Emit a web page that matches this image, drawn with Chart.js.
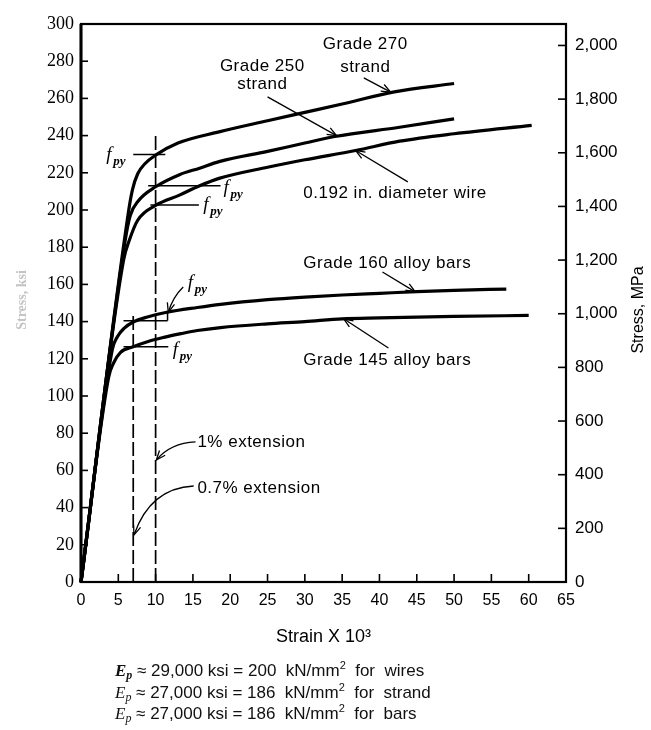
<!DOCTYPE html>
<html>
<head>
<meta charset="utf-8">
<script src="https://cdn.jsdelivr.net/npm/chart.js@4.4.0/dist/chart.umd.min.js"></script>
<style>
html, body { margin: 0; padding: 0; background: #fff; }
#wrap { position: relative; width: 651px; height: 730px; }
#chart { position: absolute; left: 0; top: 0; }
.note { position: absolute; left: 115px; font-family: "Liberation Sans", Arial, sans-serif; font-size: 17px; line-height: 18px; color: #111; white-space: pre; }
.note .ep { font-family: "Liberation Serif", serif; font-style: italic; }
.note sub { font-size: 12px; vertical-align: -3px; }
.note sup { font-size: 11px; vertical-align: 7px; }
</style>
</head>
<body>
<div id="wrap">
<canvas id="chart" width="651" height="730"></canvas>
<div class="note" style="top:656px"><b class="ep">E<sub>p</sub></b> ≈ 29,000 ksi = 200  kN/mm<sup>2</sup>  for  wires</div>
<div class="note" style="top:678px"><span class="ep">E<sub>p</sub></span> ≈ 27,000 ksi = 186  kN/mm<sup>2</sup>  for  strand</div>
<div class="note" style="top:699px"><span class="ep">E<sub>p</sub></span> ≈ 27,000 ksi = 186  kN/mm<sup>2</sup>  for  bars</div>
</div>
<script>
// assi
const xTicks = [0, 5, 10, 15, 20, 25, 30, 35, 40, 45, 50, 55, 60, 65];
const ksiTicks = [0, 20, 40, 60, 80, 100, 120, 140, 160, 180, 200, 220, 240, 260, 280, 300];
const mpaTicks = [0, 200, 400, 600, 800, 1000, 1200, 1400, 1600, 1800, 2000];

// curve sforzo-deformazione (strain x 10^3, ksi)
const grade270Strain = [0, 6.4, 6.9, 7.6, 8.6, 10, 13, 18.5, 25, 30, 35, 42, 50];
const grade270Stress = [0, 200, 211, 219.5, 225, 229.5, 236, 242, 248, 252.5, 257, 263.5, 268];

const grade250Strain = [0, 5.9, 6.6, 7.7, 10, 13.2, 15.9, 18.5, 25, 30, 34, 42.7, 50];
const grade250Stress = [0, 183, 197, 205, 212.5, 219, 222.5, 226, 231.5, 236, 239.5, 244.5, 249];

const wireStrain = [0, 5.7, 6.5, 7.6, 10, 13.2, 15.9, 18.5, 25, 30, 36.8, 42.7, 50, 60.4];
const wireStress = [0, 173, 184, 194.5, 202.5, 208, 213, 217, 223, 227, 232, 237, 241, 245.5];

const grade160Strain = [0, 4.2, 4.9, 5.8, 7, 8.9, 11.5, 15.6, 18.7, 25, 30, 35, 40, 45, 50, 57];
const grade160Stress = [0, 125, 132, 136.5, 139.8, 142.5, 145, 147.6, 149.3, 151.8, 153.2, 154.3, 155.2, 156.1, 156.8, 157.5];

const grade145Strain = [0, 3.7, 4.4, 5.3, 7, 8.9, 11.1, 13.4, 15.6, 18.7, 25, 30, 35, 40, 50, 60];
const grade145Stress = [0, 110, 118, 123.5, 126.5, 129.2, 131.5, 133.5, 135.2, 136.8, 138.8, 140, 141.5, 142, 142.8, 143.3];

// linee di estensione 0.7% e 1%
const extensionStrain = [7, 10];
const extensionTop = [145, 242];

// f_py
const fpyStress = [229.8, 213, 202.7, 140.5, 126.5];
const fpyFrom = [7.0, 9.0, 9.3, 5.7, 5.7];
const fpyTo = [11.3, 18.7, 15.8, 11.6, 11.7];
const fpy160Mark = [11.6, 140.5, 145.2];

const toPoints = (xs, ys) => xs.map((x, i) => ({ x: x, y: ys[i] }));

const curveDataset = (xs, ys) => ({
    data: toPoints(xs, ys),
    showLine: true,
    borderColor: '#000',
    borderWidth: 3.2,
    pointRadius: 0,
    cubicInterpolationMode: 'monotone',
    fill: false,
    clip: false
});

const thinLine = (pts, width, dash) => ({
    data: pts, showLine: true, borderColor: '#000', borderWidth: width,
    borderDash: dash || [], pointRadius: 0
});

const datasets = [
    curveDataset(grade270Strain, grade270Stress),
    curveDataset(grade250Strain, grade250Stress),
    curveDataset(wireStrain, wireStress),
    curveDataset(grade160Strain, grade160Stress),
    curveDataset(grade145Strain, grade145Stress)
];

extensionStrain.forEach((s, i) => {
    datasets.push(thinLine([{ x: s, y: 0 }, { x: s, y: extensionTop[i] }], 1.7, [14, 4]));
});

fpyStress.forEach((v, i) => {
    datasets.push(thinLine([{ x: fpyFrom[i], y: v }, { x: fpyTo[i], y: v }], 1.5));
});
datasets.push(thinLine([{ x: fpy160Mark[0], y: fpy160Mark[1] }, { x: fpy160Mark[0], y: fpy160Mark[2] }], 1.5));

// testi ed etichette (coordinate in unita' del grafico)
const textLabels = [
    { text: 'Grade 270', x: 38.1, y: 289.2, align: 'center' },
    { text: 'strand', x: 38.1, y: 276.9, align: 'center' },
    { text: 'Grade 250', x: 24.3, y: 277.4, align: 'center' },
    { text: 'strand', x: 24.3, y: 267.7, align: 'center' },
    { text: '0.192 in. diameter wire', x: 29.8, y: 209.1, align: 'left' },
    { text: 'Grade 160 alloy bars', x: 29.8, y: 171.5, align: 'left' },
    { text: 'Grade 145 alloy bars', x: 29.8, y: 119.4, align: 'left' },
    { text: '1% extension', x: 15.6, y: 75.3, align: 'left' },
    { text: '0.7% extension', x: 15.6, y: 50.5, align: 'left' }
];
const fpyLabels = [[3.4, 228.5], [19.1, 210.8], [16.4, 201.6], [14.3, 159.7], [12.3, 123.7]];
// frecce: coda, punta, controllo opzionale
const arrows = [
    [37.9, 271.0, 41.5, 263.4],
    [25.0, 260.8, 34.25, 240.0],
    [43.8, 215.1, 36.8, 232.0],
    [40.4, 166.7, 44.8, 156.0],
    [41.2, 125.8, 35.2, 141.5],
    [15.35, 75.3, 10.1, 65.6, 12.0, 74.7],
    [15.1, 51.6, 7.1, 25.3, 9.3, 50.5],
    [13.7, 158.6, 11.7, 145.0, 12.3, 153.2]
];

function drawArrow(ctx, x1, y1, x2, y2, cx, cy) {
    ctx.beginPath();
    ctx.moveTo(x1, y1);
    if (cx !== undefined) ctx.quadraticCurveTo(cx, cy, x2, y2);
    else ctx.lineTo(x2, y2);
    ctx.stroke();
    const fx = cx !== undefined ? cx : x1;
    const fy = cy !== undefined ? cy : y1;
    const ang = Math.atan2(y2 - fy, x2 - fx);
    const L = 10, w = 0.38;
    ctx.beginPath();
    ctx.moveTo(x2 - L * Math.cos(ang - w), y2 - L * Math.sin(ang - w));
    ctx.lineTo(x2, y2);
    ctx.lineTo(x2 - L * Math.cos(ang + w), y2 - L * Math.sin(ang + w));
    ctx.stroke();
}

const annotations = {
    id: 'annotations',
    afterDraw(chart) {
        const { ctx, chartArea: a, scales } = chart;
        const px = v => scales.x.getPixelForValue(v);
        const py = v => scales.y.getPixelForValue(v);
        const pm = v => scales.y2.getPixelForValue(v);
        ctx.save();
        ctx.strokeStyle = '#000';
        ctx.fillStyle = '#000';

        // cornice
        ctx.lineWidth = 2.2;
        ctx.strokeRect(a.left, a.top, a.right - a.left, a.bottom - a.top);
        ctx.lineWidth = 3;
        ctx.beginPath(); ctx.moveTo(a.left, a.top); ctx.lineTo(a.left, a.bottom + 1); ctx.stroke();

        // tacche interne
        ctx.lineWidth = 1.6;
        ksiTicks.slice(1, -1).forEach(v => {
            ctx.beginPath(); ctx.moveTo(a.left, py(v)); ctx.lineTo(a.left + 7, py(v)); ctx.stroke();
        });
        xTicks.slice(1, -1).forEach(v => {
            ctx.beginPath(); ctx.moveTo(px(v), a.bottom); ctx.lineTo(px(v), a.bottom - 8); ctx.stroke();
        });
        mpaTicks.slice(1).forEach(v => {
            ctx.beginPath(); ctx.moveTo(a.right - 8, pm(v)); ctx.lineTo(a.right, pm(v)); ctx.stroke();
        });

        // etichette curve
        ctx.font = '17px "Liberation Sans", Arial, sans-serif';
        ctx.letterSpacing = '0.5px';
        ctx.textBaseline = 'middle';
        textLabels.forEach(l => {
            ctx.textAlign = l.align;
            ctx.fillText(l.text, px(l.x), py(l.y));
        });
        ctx.letterSpacing = '0px';

        // f_py
        ctx.textAlign = 'left';
        fpyLabels.forEach(([sx, sy]) => {
            const x0 = px(sx), y0 = py(sy);
            ctx.font = 'italic 19px "Liberation Serif", serif';
            ctx.fillText('f', x0, y0 - 2);
            ctx.font = 'italic bold 13px "Liberation Serif", serif';
            ctx.fillText('py', x0 + 7, y0 + 5);
        });

        // frecce
        ctx.lineWidth = 1.3;
        arrows.forEach(r => {
            if (r.length > 4) drawArrow(ctx, px(r[0]), py(r[1]), px(r[2]), py(r[3]), px(r[4]), py(r[5]));
            else drawArrow(ctx, px(r[0]), py(r[1]), px(r[2]), py(r[3]));
        });

        // titolo asse destro
        ctx.font = '16px "Liberation Sans", Arial, sans-serif';
        ctx.textAlign = 'center';
        ctx.save();
        ctx.translate(639, 310);
        ctx.rotate(-Math.PI / 2);
        ctx.fillText('Stress, MPa', 0, 0);
        ctx.restore();

        // titolo asse sinistro (sbiadito nella scansione)
        ctx.save();
        ctx.fillStyle = '#c4c4c4';
        ctx.font = 'bold 14px "Liberation Serif", serif';
        ctx.translate(22, 300);
        ctx.rotate(-Math.PI / 2);
        ctx.fillText('Stress, ksi', 0, 0);
        ctx.restore();

        ctx.restore();
    }
};

const ctx = document.getElementById('chart').getContext('2d');
new Chart(ctx, {
    type: 'scatter',
    data: { datasets: datasets },
    options: {
        responsive: false,
        animation: false,
        layout: { padding: { top: 24, left: 0, right: 0, bottom: 0 } },
        plugins: { legend: { display: false }, tooltip: { enabled: false } },
        scales: {
            x: {
                type: 'linear', min: 0, max: 65, position: 'bottom',
                afterBuildTicks: s => { s.ticks = xTicks.map(v => ({ value: v })); },
                afterFit: s => { s.height = 148; },
                grid: { display: false, drawTicks: false },
                border: { display: false },
                ticks: { color: '#000', padding: 9, maxRotation: 0, autoSkip: false,
                         font: { family: '"Liberation Sans", Arial, sans-serif', size: 16 } },
                title: { display: true, text: 'Strain X 10³', color: '#000',
                         font: { family: '"Liberation Sans", Arial, sans-serif', size: 18 },
                         padding: { top: 0, bottom: 82 } }
            },
            y: {
                type: 'linear', min: 0, max: 300, position: 'left',
                afterBuildTicks: s => { s.ticks = ksiTicks.map(v => ({ value: v })); },
                afterFit: s => { s.width = 81; },
                grid: { display: false, drawTicks: false },
                border: { display: false },
                ticks: { color: '#000', padding: 7,
                         font: { family: '"Liberation Serif", serif', size: 18 } }
            },
            y2: {
                type: 'linear', min: 0, max: 2080, position: 'right',
                afterBuildTicks: s => { s.ticks = mpaTicks.map(v => ({ value: v })); },
                afterFit: s => { s.width = 85; },
                grid: { display: false, drawTicks: false },
                border: { display: false },
                ticks: { color: '#000', padding: 9,
                         callback: v => v.toLocaleString('en-US'),
                         font: { family: '"Liberation Sans", Arial, sans-serif', size: 17 } }
            }
        }
    },
    plugins: [annotations]
});
</script>
</body>
</html>
